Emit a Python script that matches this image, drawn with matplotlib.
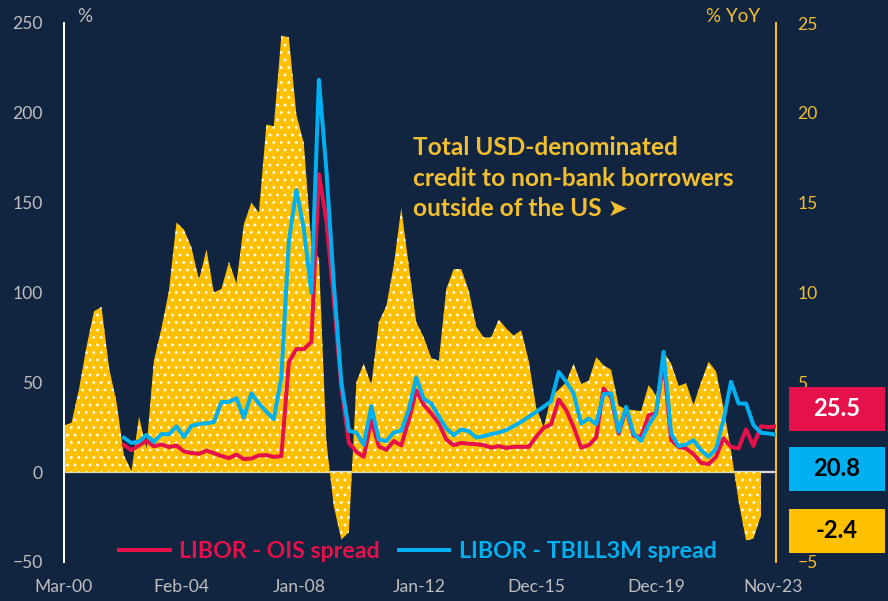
import numpy as np
import pandas as pd
import matplotlib
matplotlib.use("Agg")
import matplotlib.pyplot as plt
from matplotlib.patches import Rectangle

# quarterly dates, Mar-00 .. Dec-23
quarters = pd.date_range("2000-03-01", periods=96, freq="3MS")

# total USD-denominated credit to non-bank borrowers outside the US, % YoY (Mar-00 .. Jun-23)
credit_yoy = [2.6, 2.75, 4.65, 7.0, 8.95, 9.2, 5.8, 3.9, 0.95, 0.05,
              3.1, 1.3, 6.2, 8.0, 10.1, 13.9, 13.5, 12.5, 10.7, 12.4,
              10.0, 10.2, 11.7, 10.5, 13.8, 15.0, 14.45, 19.35, 19.25, 24.3,
              24.2, 19.9, 18.3, 12.65, 11.9, 1.7, -1.9, -3.75, -3.35, 5.0,
              6.05, 4.85, 8.35, 9.25, 11.5, 14.7, 11.5, 8.35, 7.5, 6.35,
              6.2, 10.2, 11.3, 11.3, 10.1, 8.1, 7.5, 7.5, 8.5, 8.0,
              7.6, 7.9, 6.2, 3.6, 2.5, 4.2, 4.6, 5.0, 6.05, 4.9,
              5.1, 6.4, 5.95, 5.7, 3.7, 3.5, 3.45, 3.4, 4.85, 4.25,
              6.7, 6.05, 4.8, 4.95, 3.75, 5.0, 6.15, 5.6, 3.6, 1.2,
              -1.6, -3.8, -3.7, -2.4]

# spreads in bp (Mar-02 .. Dec-23)
libor_ois = [15.2, 12.2, 14.9, 17.5, 14.4, 15.4, 14.0, 14.8, 11.5, 10.7,
             10.2, 12.0, 10.6, 9.0, 7.8, 9.8, 7.3, 7.6, 9.3, 9.5,
             8.5, 8.9, 61.3, 68.5, 68.5, 72.5, 165.8, 140, 96, 47,
             16.3, 11.4, 8.5, 29, 14.3, 12.4, 17.3, 14.9, 29, 45.5,
             37.5, 32.7, 27.1, 18.2, 15.0, 16.3, 15.8, 15.6, 15.0, 13.7,
             14.5, 13.5, 14.1, 14.1, 14.1, 19.7, 24.7, 26.7, 40.5, 34.5,
             25.2, 13.7, 15.0, 19.3, 46.6, 41.9, 21.5, 35.5, 20.3, 19.7,
             31.7, 32.7, 62, 17.8, 14.1, 13.2, 10.0, 5.2, 4.5, 8.5,
             18.8, 14.1, 13.2, 23.8, 14.6, 25.6, 25.0, 25.5]
libor_tbill = [19.2, 16.2, 17.1, 20.7, 16.8, 21.2, 21.1, 25.5, 19.6, 25.8,
               26.8, 27.2, 27.9, 39.1, 39.1, 41.2, 30.4, 43.8, 38.2, 33.6,
               29.5, 52.7, 128.8, 157, 135.5, 100, 218.4, 168, 105, 50,
               23, 22.1, 15.3, 36.7, 18.2, 17.3, 22.1, 23.1, 34.8, 52.7,
               40.8, 38.2, 31.2, 24.3, 20.6, 23.8, 22.8, 19.3, 20.0, 21.2,
               22.1, 23.4, 25.6, 28.0, 30.8, 33.6, 36.4, 39.5, 55.8, 50.3,
               43.8, 27.1, 29.9, 26.7, 43.5, 43.8, 22.4, 36.4, 21.5, 17.4,
               26.2, 32.7, 67, 21.5, 14.5, 15.4, 17.8, 12.2, 8.5, 13.2,
               29, 50.3, 38.2, 38.2, 26.2, 21.9, 21.5, 20.8]

tick_dates = pd.to_datetime(["2000-03-01", "2004-02-01", "2008-01-01", "2012-01-01",
                             "2015-12-01", "2019-12-01", "2023-11-01"])

BG = "#112440"
YELLOW = "#FFC000"
YTEXT = "#F2BF2F"
RED = "#E5114A"
BLUE = "#00B0F0"
GRAY = "#BFBFBF"

plt.rcParams['font.family'] = ['Lato', 'DejaVu Sans']
plt.rcParams['hatch.color'] = 'white'
plt.rcParams['hatch.linewidth'] = 1.0

fig = plt.figure(figsize=(888 / 90, 601 / 90), dpi=90, facecolor=BG)
ax = fig.add_axes([64 / 888, 39 / 601, 712 / 888, 539 / 601])
ax2 = ax.twinx()
ax.set_zorder(ax2.get_zorder() + 1)
ax.patch.set_visible(False)
ax2.patch.set_visible(False)

# credit growth area on the right axis
ax2.axhline(0, color="#D9D9D9", lw=1.8, zorder=1)
ax2.fill_between(quarters[:len(credit_yoy)], credit_yoy, 0, facecolor=YELLOW,
                 edgecolor="white", hatch="..", linewidth=0, zorder=2)

# spreads on the left axis
ax.plot(quarters[8:], libor_ois, color=RED, lw=3.2, label="LIBOR - OIS spread", zorder=3)
ax.plot(quarters[8:], libor_tbill, color=BLUE, lw=3.2, label="LIBOR - TBILL3M spread", zorder=4)

ax.set_xlim(quarters[0], quarters[-1])
ax.set_ylim(-50, 250)
ax2.set_ylim(-5, 25)

for s in ["top", "bottom", "right"]:
    ax.spines[s].set_visible(False)
for s in ["top", "bottom", "left"]:
    ax2.spines[s].set_visible(False)
ax.spines["left"].set_color("white")
ax.spines["left"].set_linewidth(1.6)
ax2.spines["right"].set_color(YELLOW)
ax2.spines["right"].set_linewidth(1.6)

ax.set_yticks(range(-50, 251, 50))
ax.tick_params(axis="y", length=0, pad=17, labelcolor=GRAY, labelsize=14)
ax2.set_yticks(range(-5, 26, 5))
ax2.tick_params(axis="y", length=0, pad=17, labelcolor=YTEXT, labelsize=14)
ax.set_xticks(tick_dates)
ax.set_xticklabels([d.strftime("%b-%y") for d in tick_dates])
ax.tick_params(axis="x", length=0, pad=14, labelcolor=GRAY, labelsize=14)

fig.text(77 / 888, 1 - 16 / 601, "%", color=GRAY, fontsize=15, ha="left", va="center")
fig.text(760 / 888, 1 - 16 / 601, "% YoY", color=YTEXT, fontsize=15, ha="right", va="center")

fig.text(413 / 888, 1 - 136 / 601,
         "Total USD-denominated\ncredit to non-bank borrowers\noutside of the US \u27a4",
         color=YTEXT, fontsize=19.5, fontweight="bold", ha="left", va="top", linespacing=1.4)

ax.legend(loc="center", bbox_to_anchor=(0.497, 0.019), ncol=2, frameon=False,
          prop={"weight": "bold", "size": 18.5}, handlelength=2.2, handletextpad=0.4,
          columnspacing=0.8, labelcolor="linecolor", borderpad=0, borderaxespad=0)

# latest values
boxes = [(libor_ois[-1], RED, "white", 387), (libor_tbill[-1], BLUE, "black", 447),
         (credit_yoy[-1], YELLOW, "black", 509)]
for val, fc, tc, top in boxes:
    fig.patches.append(Rectangle((789 / 888, 1 - (top + 44) / 601), 96 / 888, 44 / 601,
                                 transform=fig.transFigure, facecolor=fc, edgecolor="none"))
    fig.text(837 / 888, 1 - (top + 22) / 601, f"{val:.1f}", color=tc, fontsize=19,
             fontweight="bold", ha="center", va="center")

fig.savefig("out.png", dpi=90, facecolor=BG)
